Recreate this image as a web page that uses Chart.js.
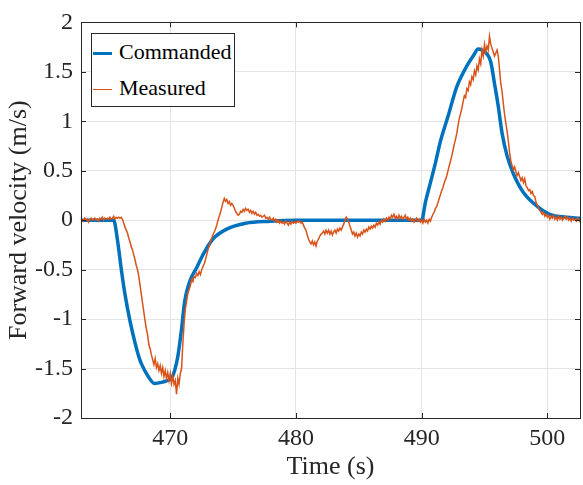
<!DOCTYPE html>
<html>
<head>
<meta charset="utf-8">
<script src="https://cdn.jsdelivr.net/npm/chart.js@4/dist/chart.umd.min.js"></script>
<style>
  html, body { margin: 0; padding: 0; background: #fff; }
  #wrap { position: relative; width: 583px; height: 485px; }
  #legend {
    position: absolute; left: 91px; top: 33px; width: 142px; height: 72px;
    border: 1px solid #262626; background: #fff;
    font-family: "Liberation Serif", "Times New Roman", serif; font-size: 22px; color: #000;
  }
  .item { position: absolute; left: 1px; height: 24px; line-height: 24px; white-space: nowrap; }
  .item span.swatch { display: inline-block; width: 19px; vertical-align: middle; margin-right: 7px; }
</style>
</head>
<body>
<div id="wrap">
  <canvas id="velocityChart" width="583" height="485"></canvas>
  <div id="legend">
    <div class="item" style="top:6px"><span class="swatch" style="border-top:3px solid #0072BD"></span>Commanded</div>
    <div class="item" style="top:42px"><span class="swatch" style="border-top:1.5px solid #D95319"></span>Measured</div>
  </div>
</div>
<script>
// axis ticks
const xTicks = [470, 480, 490, 500];
const yTicks = [-2, -1.5, -1, -0.5, 0, 0.5, 1, 1.5, 2];

// commanded velocity (smooth reference)
const cmdTime = [462.9, 465.5, 465.8, 466.1, 466.4, 466.8, 467.2, 467.55, 467.7, 468.2, 468.75, 469.3, 469.8, 470.1,
  470.35, 470.6, 470.88, 471.15, 471.55, 472.1, 472.6, 473.4, 474.5, 476.0, 478.0, 480.0, 490.0, 490.3, 490.7, 491.1,
  491.5, 492.1, 492.8, 493.6, 494.1, 494.5, 494.8, 495.2, 495.5, 495.8, 496.1, 496.4, 496.8, 497.3, 498.1, 499.2,
  500.2, 501.5, 502.6];
const cmdVel = [0, 0, -0.2, -0.49, -0.75, -1.02, -1.24, -1.40, -1.45, -1.57, -1.65, -1.64, -1.62, -1.60,
  -1.52, -1.38, -1.12, -0.82, -0.62, -0.48, -0.35, -0.19, -0.09, -0.03, -0.01, 0, 0, 0.18, 0.38, 0.58,
  0.80, 1.05, 1.35, 1.56, 1.66, 1.73, 1.72, 1.68, 1.60, 1.38, 1.15, 0.88, 0.65, 0.47, 0.28, 0.14,
  0.06, 0.03, 0.02];

// measured velocity, sampled every 0.1 s from 463.0 s
const measStart = 463.0;
const measStep = 0.1;
const measVel = [
  0.01, -0.01, 0.02, 0.00, 0.01, -0.02, 0.01, 0.02, 0.00, 0.01,
  0.02, 0.00, 0.01, -0.01, 0.02, 0.01, 0.03, 0.00, 0.02, 0.01,
  0.02, 0.01, 0.03, 0.01, 0.02, 0.04, 0.01, 0.03, 0.02, 0.03,
  0.02, 0.03, 0.01, -0.03, -0.07, -0.10, -0.13, -0.18, -0.22, -0.27,
  -0.30, -0.35, -0.40, -0.46, -0.50, -0.57, -0.66, -0.75, -0.84, -0.93,
  -1.02, -1.10, -1.16, -1.26, -1.30, -1.36, -1.41, -1.46, -1.40, -1.49,
  -1.45, -1.52, -1.47, -1.55, -1.49, -1.58, -1.52, -1.60, -1.54, -1.62,
  -1.55, -1.65, -1.58, -1.66, -1.62, -1.76, -1.60, -1.66, -1.55, -1.50,
  -1.25, -1.05, -0.90, -0.82, -0.74, -0.70, -0.66, -0.60, -0.62, -0.57,
  -0.58, -0.54, -0.56, -0.52, -0.55, -0.50, -0.47, -0.44, -0.40, -0.35,
  -0.30, -0.26, -0.22, -0.18, -0.15, -0.12, -0.09, -0.05, 0.00, 0.04,
  0.08, 0.13, 0.18, 0.22, 0.19, 0.21, 0.17, 0.19, 0.15, 0.17,
  0.15, 0.12, 0.09, 0.07, 0.05, 0.06, 0.09, 0.08, 0.11, 0.09,
  0.12, 0.10, 0.11, 0.08, 0.10, 0.07, 0.09, 0.06, 0.08, 0.05,
  0.06, 0.04, 0.05, 0.03, 0.04, 0.05, 0.02, 0.03, 0.01, 0.03,
  0.01, 0.00, 0.02, -0.01, 0.01, -0.02, 0.00, -0.03, -0.01, -0.03,
  -0.02, -0.04, -0.01, -0.03, -0.05, -0.02, -0.04, -0.01, -0.03, -0.02,
  -0.03, -0.01, -0.02, -0.01, -0.03, -0.02, -0.05, -0.08, -0.10, -0.15,
  -0.19, -0.22, -0.24, -0.21, -0.25, -0.22, -0.26, -0.21, -0.19, -0.16,
  -0.14, -0.13, -0.11, -0.14, -0.10, -0.13, -0.10, -0.14, -0.11, -0.15,
  -0.12, -0.10, -0.13, -0.09, -0.11, -0.08, -0.10, -0.07, -0.04, 0.00,
  0.03, 0.01, -0.02, -0.06, -0.10, -0.14, -0.12, -0.16, -0.13, -0.17,
  -0.14, -0.16, -0.12, -0.14, -0.10, -0.12, -0.09, -0.11, -0.07, -0.09,
  -0.06, -0.08, -0.05, -0.07, -0.03, -0.05, -0.02, -0.04, 0.00, -0.02,
  0.01, -0.01, 0.02, 0.00, 0.03, 0.01, 0.05, 0.03, 0.06, 0.02,
  0.04, 0.01, 0.05, 0.02, 0.04, 0.01, 0.03, 0.05, 0.01, 0.03,
  0.00, 0.02, -0.01, 0.01, -0.02, 0.00, 0.02, -0.01, 0.01, -0.02,
  0.00, -0.03, 0.01, -0.02, 0.00, -0.03, 0.01, -0.01, 0.03, 0.06,
  0.08, 0.12, 0.14, 0.18, 0.22, 0.26, 0.30, 0.33, 0.38, 0.41,
  0.45, 0.50, 0.55, 0.60, 0.65, 0.71, 0.77, 0.82, 0.88, 0.96,
  1.03, 1.08, 1.13, 1.20, 1.26, 1.24, 1.33, 1.31, 1.40, 1.37,
  1.45, 1.42, 1.51, 1.47, 1.56, 1.52, 1.63, 1.58, 1.72, 1.66,
  1.78, 1.70, 1.76, 1.72, 1.86, 1.78, 1.74, 1.70, 1.66, 1.69,
  1.72, 1.66, 1.52, 1.38, 1.30, 1.18, 1.07, 0.98, 0.90, 0.80,
  0.68, 0.60, 0.55, 0.51, 0.54, 0.49, 0.45, 0.48, 0.44, 0.40,
  0.43, 0.38, 0.42, 0.35, 0.33, 0.30, 0.31, 0.27, 0.29, 0.25,
  0.24, 0.18, 0.15, 0.12, 0.10, 0.08, 0.06, 0.08, 0.04, 0.06,
  0.03, 0.05, 0.01, 0.04, 0.02, 0.05, 0.01, 0.03, 0.00, 0.04,
  0.01, 0.03, 0.00, 0.02, 0.04, 0.01, 0.03, 0.00, 0.02, -0.01,
  0.02, 0.00, 0.01, -0.01, 0.02, 0.00, -0.02
];

const AXIS = '#262626';
const FONT = '"Liberation Serif", "Times New Roman", serif';

const cmdPoints = cmdTime.map((t, i) => ({ x: t, y: cmdVel[i] }));
const measPoints = measVel.map((v, i) => ({ x: +(measStart + i * measStep).toFixed(1), y: v }));

// box around plot area + inward tick marks (MATLAB style)
const boxPlugin = {
  id: 'box',
  afterDraw(chart) {
    const { ctx, chartArea: a, scales } = chart;
    ctx.save();
    ctx.strokeStyle = AXIS;
    ctx.lineWidth = 1;
    ctx.strokeRect(Math.round(a.left) + 0.5, Math.round(a.top) + 0.5,
      Math.round(a.right - a.left), Math.round(a.bottom - a.top));
    ctx.beginPath();
    xTicks.forEach(v => {
      const x = Math.round(scales.x.getPixelForValue(v)) + 0.5;
      ctx.moveTo(x, a.bottom); ctx.lineTo(x, a.bottom - 5);
      ctx.moveTo(x, a.top); ctx.lineTo(x, a.top + 5);
    });
    yTicks.forEach(v => {
      const y = Math.round(scales.y.getPixelForValue(v)) + 0.5;
      ctx.moveTo(a.left, y); ctx.lineTo(a.left + 5, y);
      ctx.moveTo(a.right, y); ctx.lineTo(a.right - 5, y);
    });
    ctx.stroke();
    ctx.restore();
  }
};

const ctx = document.getElementById('velocityChart').getContext('2d');
new Chart(ctx, {
  type: 'line',
  data: {
    datasets: [
      {
        label: 'Commanded',
        data: cmdPoints,
        borderColor: '#0072BD',
        borderWidth: 3.5,
        pointRadius: 0,
        cubicInterpolationMode: 'monotone',
        order: 2
      },
      {
        label: 'Measured',
        data: measPoints,
        borderColor: '#D95319',
        borderWidth: 1.5,
        pointRadius: 0,
        tension: 0,
        order: 1
      }
    ]
  },
  options: {
    responsive: false,
    animation: false,
    layout: { padding: { top: 18, right: 3, left: 0, bottom: 0 } },
    plugins: {
      legend: { display: false },
      tooltip: { enabled: false }
    },
    scales: {
      x: {
        type: 'linear',
        min: 462.9,
        max: 502.6,
        afterBuildTicks: s => { s.ticks = xTicks.map(v => ({ value: v })); },
        afterFit: s => { s.height = 67; },
        grid: { color: '#e4e4e4', drawTicks: false },
        border: { display: false },
        ticks: { color: AXIS, font: { family: FONT, size: 24 }, padding: 6, maxRotation: 0 },
        title: { display: true, text: 'Time (s)', color: AXIS, font: { family: FONT, size: 26 }, padding: { top: 0, bottom: 2 } }
      },
      y: {
        min: -2,
        max: 2,
        afterBuildTicks: s => { s.ticks = yTicks.map(v => ({ value: v })); },
        afterFit: s => { s.width = 81; },
        grid: { color: '#e4e4e4', drawTicks: false },
        border: { display: false },
        ticks: {
          color: AXIS, font: { family: FONT, size: 24 }, padding: 8,
          callback: v => String(v)
        },
        title: { display: true, text: 'Forward velocity (m/s)', color: AXIS, font: { family: FONT, size: 26 }, padding: { top: 4, bottom: 4 } }
      }
    }
  },
  plugins: [boxPlugin]
});
</script>
</body>
</html>
